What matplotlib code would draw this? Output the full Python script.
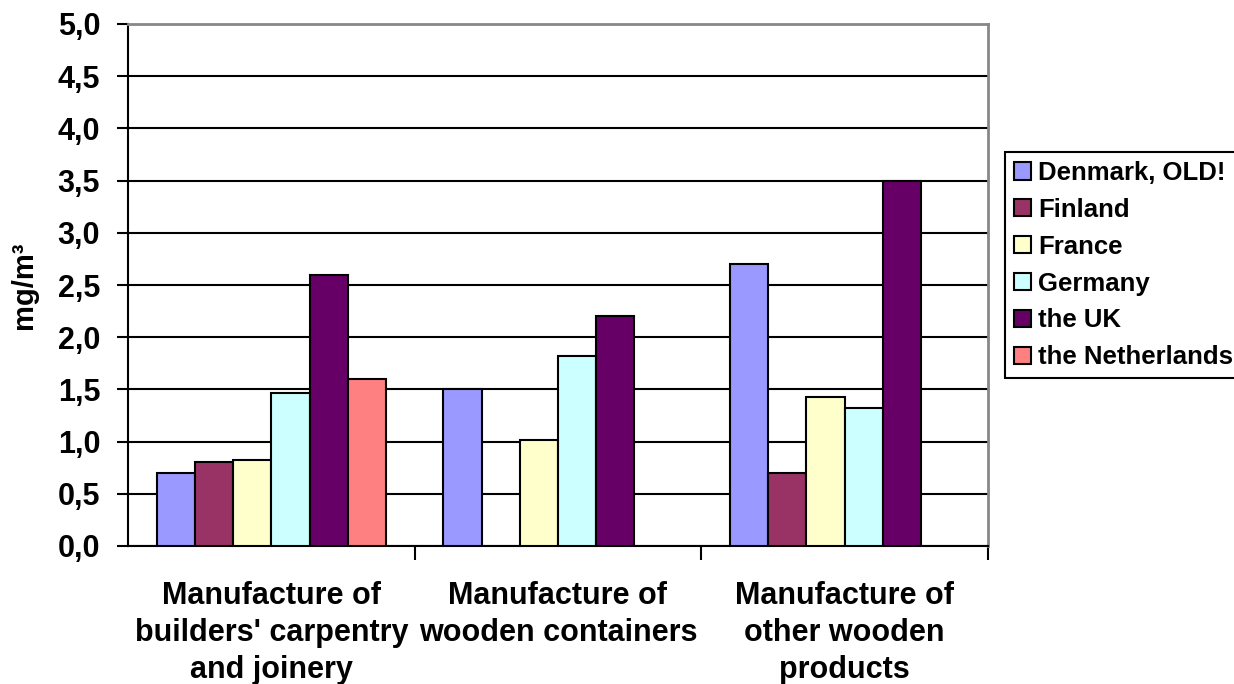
import numpy as np
import matplotlib
matplotlib.use("Agg")
from matplotlib import pyplot as plt
from matplotlib.patches import Patch

plt.rcParams['font.family'] = ['Liberation Sans', 'DejaVu Sans']
plt.rcParams['font.weight'] = 'bold'

# data
categories = ["Manufacture of\nbuilders' carpentry\nand joinery",
              "Manufacture of\nwooden containers",
              "Manufacture of\nother wooden\nproducts"]
countries = ["Denmark, OLD!", "Finland", "France", "Germany", "the UK", "the Netherlands"]
denmark = [0.70, 1.50, 2.70]
finland = [0.80, np.nan, 0.70]
france = [0.82, 1.02, 1.43]
germany = [1.47, 1.82, 1.32]
uk = [2.60, 2.20, 3.50]
netherlands = [1.60, np.nan, np.nan]
series = [denmark, finland, france, germany, uk, netherlands]
colors = ["#9999FF", "#993366", "#FFFFCC", "#CCFFFF", "#660066", "#FF8080"]
yticks = np.arange(0, 5.01, 0.5)

fig = plt.figure(figsize=(12.34, 6.84), dpi=100)
W, H = 1234, 684
ax = fig.add_axes([128 / W, 1 - 546 / H, (988 - 128) / W, (546 - 24) / H])

x = np.arange(len(categories))
bw = 1 / 7.5
for i, (vals, c) in enumerate(zip(series, colors)):
    ax.bar(x - 0.4 + bw * (i + 0.5), vals, bw, color=c, edgecolor="black",
           linewidth=1.5, zorder=3)

ax.set_xlim(-0.5, 2.5)
ax.set_ylim(0, 5)
ax.set_yticks(yticks)
ax.set_yticklabels([f"{v:.1f}".replace(".", ",") for v in yticks], fontsize=22, fontweight='bold')
ax.yaxis.grid(True, color="black", linewidth=1.5, zorder=1)
ax.tick_params(axis='y', length=8, width=1.5, pad=12)

# category ticks at boundaries, labels centred
ax.set_xticks(x)
ax.set_xticklabels(categories, fontsize=22, fontweight='bold', linespacing=1.3)
ax.tick_params(axis='x', which='major', length=0, pad=25)
ax.set_xticks([0.5, 1.5, 2.5], minor=True)
ax.tick_params(axis='x', which='minor', length=10, width=1.5)

ax.spines['left'].set_linewidth(1.5)
ax.spines['bottom'].set_linewidth(1.5)
for s in ['top', 'right']:
    ax.spines[s].set_color("#888888")
    ax.spines[s].set_linewidth(2)

ax.set_ylabel("mg/m³", fontsize=21, fontweight='bold', labelpad=14)

handles = [Patch(facecolor=c, edgecolor="black", linewidth=1.5) for c in colors]
leg = fig.legend(handles, countries, loc='upper left',
                 bbox_to_anchor=(1005 / W, 1 - 152 / H), prop={'size': 18.5, 'weight': 'bold'},
                 frameon=True, fancybox=False, edgecolor="black", framealpha=1,
                 handlelength=0.65, handleheight=0.65, handletextpad=0.3,
                 labelspacing=0.5, borderpad=0.35, borderaxespad=0)
leg.get_frame().set_linewidth(1.5)

fig.savefig("out.png", dpi=100)
